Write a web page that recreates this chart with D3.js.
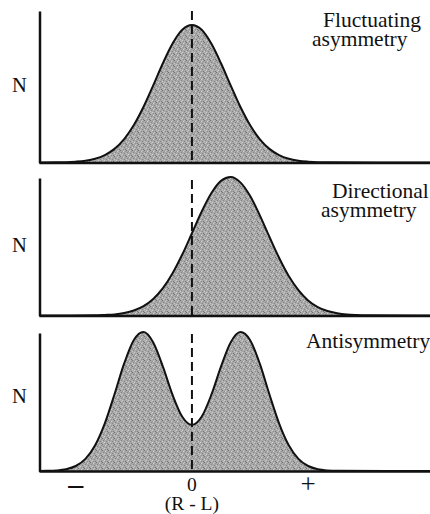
<!DOCTYPE html>
<html>
<head>
<meta charset="utf-8">
<script src="https://cdn.jsdelivr.net/npm/d3@7"></script>
<style>
  html, body { margin: 0; padding: 0; background: #fff; }
  svg { display: block; }
  text { font-family: "Liberation Serif", "Times New Roman", serif; fill: #111; }
</style>
</head>
<body>
<svg id="chart" width="430" height="514"></svg>
<script>
// ---- Data ----
const panelTitles = [["Fluctuating", "asymmetry"], ["Directional", "asymmetry"], ["Antisymmetry"]];
const yLabel = "N";
const xTickValues = [-3, 0, 3];
const xTickLabels = ["\u2013", "0", "+"];
const xAxisTitle = "(R - L)";

// Fluctuating asymmetry: symmetric about 0
const fluctX = [-3.95, -3.5, -3.25, -3, -2.75, -2.5, -2.25, -2, -1.75, -1.5, -1.25, -1, -0.75, -0.5, -0.25, 0,
                0.25, 0.5, 0.75, 1, 1.25, 1.5, 1.75, 2, 2.25, 2.5, 2.75, 3, 3.25, 3.5, 6.2];
const fluctN = [0, 0.1, 0.2, 0.6, 1.3, 2.7, 5.4, 9.9, 17.0, 27.2, 40.5, 56.1, 72.2, 86.5, 96.5, 100,
                96.5, 86.5, 72.2, 56.1, 40.5, 27.2, 17.0, 9.9, 5.4, 2.7, 1.3, 0.6, 0.2, 0.1, 0];

// Directional asymmetry: shifted to the right
const direcX = [-3.95, -2.5, -2.25, -2, -1.75, -1.5, -1.25, -1, -0.75, -0.5, -0.25, 0, 0.25, 0.5, 0.75, 1,
                1.25, 1.5, 1.75, 2, 2.25, 2.5, 2.75, 3, 3.25, 3.5, 3.75, 4, 4.25, 4.5, 6.2];
const direcN = [0, 0.1, 0.4, 0.8, 1.8, 3.6, 6.7, 11.9, 19.7, 30.5, 44.0, 59.4, 74.9, 88.2, 97.2, 100,
                96.1, 86.4, 72.5, 56.9, 41.7, 28.5, 18.3, 10.9, 6.1, 3.2, 1.6, 0.7, 0.3, 0.1, 0];

// Antisymmetry: bimodal
const antiX = [-3.95, -3.75, -3.5, -3.25, -3, -2.75, -2.5, -2.25, -2, -1.75, -1.5, -1.25, -1, -0.75, -0.5, -0.25, 0,
               0.25, 0.5, 0.75, 1, 1.25, 1.5, 1.75, 2, 2.25, 2.5, 2.75, 3, 3.25, 3.5, 3.75, 6.2];
const antiN = [0, 0.1, 0.4, 1.3, 3.6, 8.7, 18.5, 34.3, 55.2, 77.4, 94.3, 100, 92.5, 75.1, 54.7, 39.0, 33.2,
               39.0, 54.7, 75.1, 92.5, 100, 94.3, 77.4, 55.2, 34.3, 18.5, 8.7, 3.6, 1.3, 0.4, 0.1, 0];

const seriesX = [fluctX, direcX, antiX];
const seriesN = [fluctN, direcN, antiN];

// ---- Layout ----
const svg = d3.select("#chart");
const x = d3.scaleLinear().domain([-3.95, 6.2]).range([39, 432]);

const panels = [
  { base: 162.5, peak: 25, axisTop: 11, dashTop: 11, nY: 92, titleY: 27, titleX: [323, 312] },
  { base: 315.5, peak: 177, axisTop: 178, dashTop: 180, nY: 252, titleY: 198, titleX: [332, 321] },
  { base: 471, peak: 332, axisTop: 333, dashTop: 334, nY: 403, titleY: 348, titleX: [306] }
];

// stipple pattern
const defs = svg.append("defs");
const pat = defs.append("pattern").attr("id", "stipple").attr("patternUnits", "userSpaceOnUse")
  .attr("width", 6).attr("height", 6);
pat.append("rect").attr("width", 6).attr("height", 6).attr("fill", "#a9a9a9");
const dots = [[0,0,"#727272"],[3,1,"#d2d2d2"],[1,2,"#868686"],[4,3,"#828282"],[2,4,"#cfcfcf"],[5,5,"#767676"],
              [0,3,"#c8c8c8"],[3,5,"#8f8f8f"],[5,1,"#949494"],[1,5,"#c4c4c4"],[4,0,"#bdbdbd"],[2,1,"#939393"]];
dots.forEach(d => pat.append("rect").attr("x", d[0]).attr("y", d[1]).attr("width", 1).attr("height", 1).attr("fill", d[2]));

panels.forEach((p, i) => {
  const y = d3.scaleLinear().domain([0, 100]).range([p.base, p.peak]);
  const pts = seriesX[i].map((xv, j) => [xv, seriesN[i][j]]);
  const g = svg.append("g");

  g.append("path").datum(pts)
    .attr("d", d3.area().x(d => x(d[0])).y0(y(0)).y1(d => y(d[1])).curve(d3.curveMonotoneX))
    .attr("fill", "url(#stipple)");

  // dashed zero line
  g.append("line")
    .attr("x1", x(0)).attr("x2", x(0))
    .attr("y1", p.dashTop).attr("y2", p.base)
    .attr("stroke", "#111").attr("stroke-width", 2).attr("stroke-dasharray", "9,5");

  g.append("path").datum(pts)
    .attr("d", d3.line().x(d => x(d[0])).y(d => y(d[1])).curve(d3.curveMonotoneX))
    .attr("fill", "none").attr("stroke", "#111").attr("stroke-width", 2);

  // axes (L-shaped frame)
  const yAxis = d3.axisLeft(d3.scaleLinear().domain([0, 1]).range([p.base, p.axisTop])).ticks(0).tickSizeOuter(0);
  g.append("g").attr("transform", `translate(${39.5},0)`).call(yAxis)
    .call(s => s.select(".domain").attr("stroke", "#111").attr("stroke-width", 2.5));
  const xAxis = d3.axisBottom(x).tickValues([]).tickSizeOuter(0);
  g.append("g").attr("transform", `translate(0,${p.base})`).call(xAxis)
    .call(s => s.select(".domain").attr("stroke", "#111").attr("stroke-width", 2.5));

  // N label
  g.append("text").attr("x", 12).attr("y", p.nY).attr("font-size", 20.5).text(yLabel);

  // title
  panelTitles[i].forEach((t, k) => {
    g.append("text").attr("x", p.titleX[k]).attr("y", p.titleY + k * 19)
      .attr("font-size", 21.5).text(t);
  });
});

// bottom tick labels
const tickG = svg.append("g");
xTickValues.forEach((v, i) => {
  const t = tickG.append("text").attr("x", x(v)).attr("text-anchor", "middle").text(xTickLabels[i]);
  if (i === 0) t.attr("y", 494).attr("font-size", 30).attr("font-weight", "bold");
  else if (i === 2) t.attr("y", 493).attr("font-size", 27);
  else t.attr("y", 491).attr("font-size", 19.5);
});
svg.append("text").attr("x", x(0)).attr("y", 509.5).attr("text-anchor", "middle")
  .attr("font-size", 19.5).text(xAxisTitle);
</script>
</body>
</html>
